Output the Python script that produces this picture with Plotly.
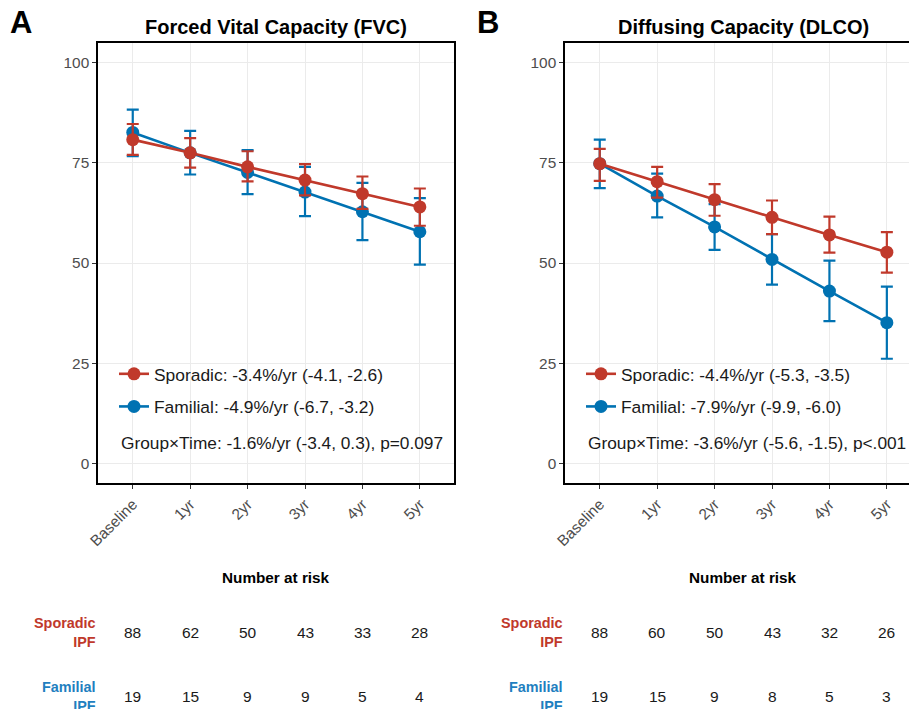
import plotly.graph_objects as go

timepoints = ["Baseline", "1yr", "2yr", "3yr", "4yr", "5yr"]

# FVC (% predicted)
fvc_sporadic = [80.8, 77.5, 74.0, 70.7, 67.3, 64.0]
fvc_sporadic_lo = [77.0, 73.8, 70.4, 66.9, 63.5, 59.3]
fvc_sporadic_hi = [84.7, 81.2, 77.9, 74.7, 71.6, 68.6]
fvc_familial = [82.6, 77.5, 72.6, 67.7, 62.8, 57.8]
fvc_familial_lo = [76.7, 72.1, 67.2, 61.7, 55.7, 49.6]
fvc_familial_hi = [88.3, 83.0, 78.2, 74.0, 70.0, 66.2]

# DLCO (% predicted)
dlco_sporadic = [74.8, 70.3, 65.8, 61.4, 57.0, 52.7]
dlco_sporadic_lo = [70.5, 66.3, 61.8, 57.2, 52.6, 47.6]
dlco_sporadic_hi = [78.5, 74.0, 69.7, 65.6, 61.6, 57.7]
dlco_familial = [74.8, 66.7, 59.0, 50.9, 43.0, 35.1]
dlco_familial_lo = [68.7, 61.4, 53.3, 44.6, 35.5, 26.1]
dlco_familial_hi = [80.8, 72.3, 64.7, 57.2, 50.6, 44.1]

fvc_labels = ["Sporadic: -3.4%/yr (-4.1, -2.6)", "Familial: -4.9%/yr (-6.7, -3.2)"]
dlco_labels = ["Sporadic: -4.4%/yr (-5.3, -3.5)", "Familial: -7.9%/yr (-9.9, -6.0)"]
fvc_interaction = "Group×Time: -1.6%/yr (-3.4, 0.3), p=0.097"
dlco_interaction = "Group×Time: -3.6%/yr (-5.6, -1.5), p<.001"

risk_fvc_sporadic = [88, 62, 50, 43, 33, 28]
risk_fvc_familial = [19, 15, 9, 9, 5, 4]
risk_dlco_sporadic = [88, 60, 50, 43, 32, 26]
risk_dlco_familial = [19, 15, 9, 8, 5, 3]

RED = "#C0392B"
BLUE = "#0072B2"
FONT = "Liberation Sans, Arial, sans-serif"

W, H = 909, 709


def px_x(p):
    return p / W


def px_y(p):
    return 1 - p / H


fig = go.Figure()


def add_series(xa, ya, mean, lo, hi, color, name, legend, group, rank):
    fig.add_trace(go.Scatter(
        x=timepoints, y=mean, xaxis=xa, yaxis=ya,
        mode="lines+markers", name=name, legend=legend, legendgroup=group, legendrank=rank,
        line=dict(color=color, width=2.6),
        marker=dict(color=color, size=13),
        error_y=dict(type="data", symmetric=False,
                     array=[h - m for h, m in zip(hi, mean)],
                     arrayminus=[m - l for m, l in zip(mean, lo)],
                     color=color, thickness=2.2, width=6),
        cliponaxis=False,
    ))


add_series("x", "y", fvc_familial, fvc_familial_lo, fvc_familial_hi, BLUE, fvc_labels[1], "legend", "fam", 2)
add_series("x", "y", fvc_sporadic, fvc_sporadic_lo, fvc_sporadic_hi, RED, fvc_labels[0], "legend", "spo", 1)
add_series("x2", "y2", dlco_familial, dlco_familial_lo, dlco_familial_hi, BLUE, dlco_labels[1], "legend2", "fam2", 2)
add_series("x2", "y2", dlco_sporadic, dlco_sporadic_lo, dlco_sporadic_hi, RED, dlco_labels[0], "legend2", "spo2", 1)

ydom = [px_y(483.3), px_y(42.7)]
xdomA = [px_x(98.3), px_x(454.3)]
xdomB = [px_x(565.3), 1.0]
step = (454.3 - 98.3) / 6.2
rangeB_end = -0.6 + (W - 565.3) / step

axis_common = dict(
    showgrid=True, gridcolor="#EBEBEB", gridwidth=1,
    showline=True, linecolor="black", linewidth=2,
    ticks="outside", ticklen=4, tickcolor="#333333", tickwidth=1,
    tickfont=dict(family=FONT, size=15.4, color="#4D4D4D"),
    zeroline=False, automargin=False,
)

legend_common = dict(xanchor="left", yanchor="top",
                     traceorder="grouped", tracegroupgap=7, bgcolor="rgba(0,0,0,0)",
                     font=dict(family=FONT, size=17.4, color="#1A1A1A"), itemclick=False)

fig.update_layout(
    width=W, height=H,
    margin=dict(l=0, r=0, t=0, b=0, autoexpand=False),
    paper_bgcolor="white", plot_bgcolor="white",
    font=dict(family=FONT),
    xaxis=dict(domain=xdomA, anchor="y", type="category", range=[-0.6, 5.6],
               tickangle=-45, mirror=True, **axis_common),
    yaxis=dict(domain=ydom, anchor="x", range=[-5, 105], tickvals=[0, 25, 50, 75, 100],
               mirror=True, **axis_common),
    xaxis2=dict(domain=xdomB, anchor="y2", type="category", range=[-0.6, rangeB_end],
                tickangle=-45, mirror=True, **axis_common),
    yaxis2=dict(domain=ydom, anchor="x2", range=[-5, 105], tickvals=[0, 25, 50, 75, 100],
                mirror=False, **axis_common),
    legend=dict(x=px_x(114), y=px_y(356), **legend_common),
    legend2=dict(x=px_x(581), y=px_y(356), **legend_common),
    showlegend=True,
)

ann = []


def text(t, x, y, size, color="black", xanchor="center", xref="paper", align="center"):
    ann.append(dict(text=t, x=x, y=px_y(y), xref=xref, yref="paper",
                    xanchor=xanchor, yanchor="middle", align=align, showarrow=False,
                    font=dict(size=size, color=color, family=FONT)))


# panel letters
text("<b>A</b>", px_x(21), 23, 31)
text("<b>B</b>", px_x(488), 23, 31)
# titles
text("<b>Forced Vital Capacity (FVC)</b>", px_x(276), 27, 20)
text("<b>Diffusing Capacity (DLCO)</b>", px_x(743), 27, 20)
# interaction texts
text(fvc_interaction, px_x(119), 443, 17.3, "#1A1A1A", "left")
text(dlco_interaction, px_x(586), 443, 17.3, "#1A1A1A", "left")

# number at risk tables
for xr, cx, sp, fa, labx in [("x", 276, risk_fvc_sporadic, risk_fvc_familial, 98),
                             ("x2", 743, risk_dlco_sporadic, risk_dlco_familial, 565)]:
    text("<b>Number at risk</b>", px_x(cx), 577, 15.3)
    text("<b>Sporadic<br>IPF</b>", px_x(labx), 632, 14.4, RED, "right", align="right")
    text("<b>Familial<br>IPF</b>", px_x(labx), 696, 14.4, "#1F7FC0", "right", align="right")
    for t, v in zip(timepoints, sp):
        text(str(v), t, 632, 15.5, "#1A1A1A", xref=xr)
    for t, v in zip(timepoints, fa):
        text(str(v), t, 696, 15.5, "#1A1A1A", xref=xr)

fig.update_layout(annotations=ann)

fig.write_html(
    "out.html",
    config={"displayModeBar": False},
    post_script="document.body.style.margin='0';document.body.style.overflow='hidden';",
)
